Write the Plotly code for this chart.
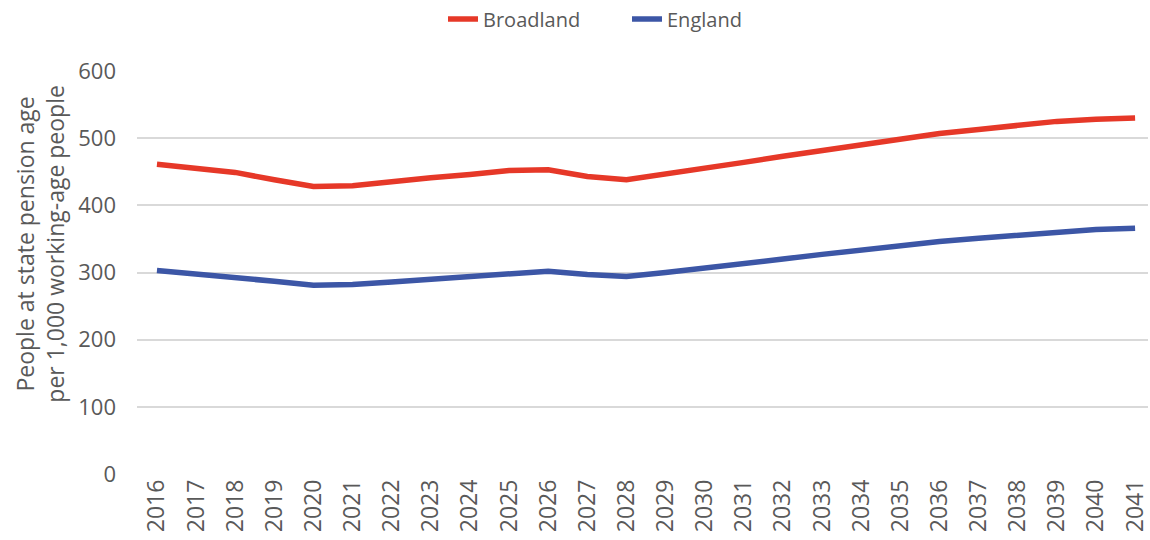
import plotly.graph_objects as go

# Old-age dependency ratio projections
years = list(range(2016, 2042))
broadland = [461, 454, 449, 438, 428, 429, 436, 441, 446, 452, 453, 443, 438,
             446, 455, 464, 473, 482, 491, 499, 507, 513, 519, 525, 528, 530]
england = [303, 298, 294, 287, 281, 282, 286, 290, 295, 300, 302, 297, 294,
           300, 306, 313, 320, 327, 334, 340, 346, 351, 356, 361, 364, 366]
y_ticks = [0, 100, 200, 300, 400, 500, 600]

TEXT = "#595959"
FONT = "Open Sans"

fig = go.Figure()
fig.add_trace(go.Scatter(x=years, y=broadland, name="Broadland", mode="lines",
                         line=dict(color="#E63828", width=5.5)))
fig.add_trace(go.Scatter(x=years, y=england, name="England", mode="lines",
                         line=dict(color="#3C56A6", width=5.5)))

fig.update_layout(
    width=1150, height=540,
    margin=dict(l=137, r=0, t=71, b=66),
    paper_bgcolor="white", plot_bgcolor="white",
    font=dict(family=FONT, color=TEXT, size=20),
    showlegend=True,
    legend=dict(orientation="h", xref="container", yref="container",
                x=443 / 1150, y=1 - 19 / 540, xanchor="left", yanchor="middle",
                font=dict(size=20, color=TEXT),
                entrywidth=139, entrywidthmode="pixels"),
    xaxis=dict(range=[2015.49, 2041.33], tickmode="array", tickvals=years,
               ticktext=[str(y) for y in years], tickangle=-90,
               ticklabeloverflow="allow",
               showgrid=False, zeroline=False, showline=False, ticks="",
               tickfont=dict(size=23, color=TEXT)),
    yaxis=dict(range=[0, 600], tickvals=y_ticks, showgrid=True,
               gridcolor="#D9D9D9", gridwidth=1.5, zeroline=False,
               ticks="", ticklabelstandoff=20,
               tickfont=dict(size=22, color=TEXT)),
    annotations=[dict(text="People at state pension age<br>per 1,000 working-age people",
                      textangle=-90, xref="paper", yref="paper",
                      x=(39.5 - 137) / 1013, y=(474 - 244) / 403,
                      xanchor="center", yanchor="middle",
                      showarrow=False, font=dict(size=23, color=TEXT))],
)

fig.write_html("out.html")
